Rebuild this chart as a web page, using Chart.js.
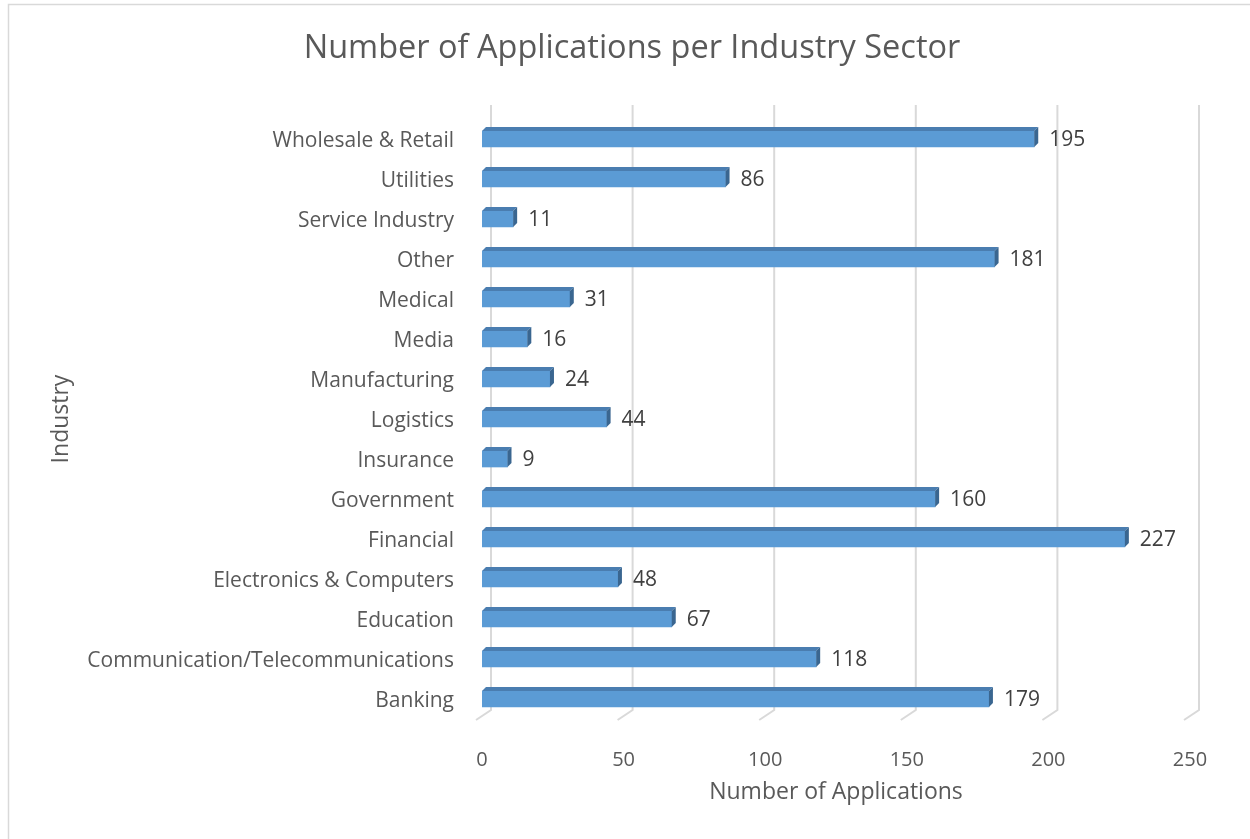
<!DOCTYPE html>
<html>
<head>
<meta charset="utf-8">
<script src="https://cdn.jsdelivr.net/npm/chart.js@4.4.1/dist/chart.umd.min.js"></script>
<style>
  body { margin: 0; background: #fff; }
  #wrap { width: 1250px; height: 839px; position: relative; }
</style>
</head>
<body>
<div id="wrap"><canvas id="chart" width="1250" height="839"></canvas></div>
<script>
// data, bottom to top like the excel sheet
const industries = ["Banking", "Communication/Telecommunications", "Education", "Electronics & Computers",
  "Financial", "Government", "Insurance", "Logistics", "Manufacturing", "Media", "Medical", "Other",
  "Service Industry", "Utilities", "Wholesale & Retail"];
const applications = [179, 118, 67, 48, 227, 160, 9, 44, 24, 16, 31, 181, 11, 86, 195];
const xTicks = [0, 50, 100, 150, 200, 250];

const fontName = "'Open Sans', sans-serif";
const frontColor = "#5B9BD5";
const topColor = "#4A7DB0";
const sideColor = "#3A6690";

// white page + the partial frame of the excel chart
const framePlugin = {
  id: "frame",
  afterLayout(chart) {
    // excel centres the title a bit right of the canvas middle
    if (chart.titleBlock) {
      chart.titleBlock.left = 74;
      chart.titleBlock.right = 1190;
    }
  },
  beforeDraw(chart) {
    const c = chart.ctx;
    c.save();
    c.fillStyle = "#fff";
    c.fillRect(0, 0, chart.width, chart.height);
    c.strokeStyle = "#D9D9D9";
    c.lineWidth = 1.5;
    c.beginPath();
    c.moveTo(8.5, chart.height);
    c.lineTo(8.5, 4.5);
    c.lineTo(chart.width, 4.5);
    c.stroke();
    c.restore();
  }
};

// back wall gridlines with the little floor diagonal
const gridPlugin = {
  id: "grid3d",
  beforeDatasetsDraw(chart) {
    const c = chart.ctx;
    const xs = chart.scales.x;
    const area = chart.chartArea;
    c.save();
    c.strokeStyle = "#D9D9D9";
    c.lineWidth = 2;
    for (const v of xTicks) {
      const px = xs.getPixelForValue(v);
      c.beginPath();
      c.moveTo(px + 9, area.top - 14);
      c.lineTo(px + 9, area.bottom - 9);
      c.lineTo(px - 6, area.bottom + 1);
      c.stroke();
    }
    c.restore();
  }
};

// top + side faces for the 3d look, and value labels
const barPlugin = {
  id: "bars3d",
  afterDatasetsDraw(chart) {
    const c = chart.ctx;
    const meta = chart.getDatasetMeta(0);
    const d = 4, h = 4;
    c.save();
    meta.data.forEach((bar, i) => {
      const x0 = bar.base, x1 = bar.x;
      const yT = bar.y - bar.height / 2, yB = bar.y + bar.height / 2;
      c.fillStyle = topColor;
      c.beginPath();
      c.moveTo(x0, yT);
      c.lineTo(x1, yT);
      c.lineTo(x1 + d, yT - h);
      c.lineTo(x0 + d, yT - h);
      c.closePath();
      c.fill();
      c.fillStyle = sideColor;
      c.beginPath();
      c.moveTo(x1, yT);
      c.lineTo(x1 + d, yT - h);
      c.lineTo(x1 + d, yB - h);
      c.lineTo(x1, yB);
      c.closePath();
      c.fill();

      c.fillStyle = "#404040";
      c.font = "21px " + fontName;
      c.textAlign = "left";
      c.textBaseline = "middle";
      c.fillText(String(applications[i]), x1 + d + 11, bar.y + 1);
    });
    c.restore();
  }
};

new Chart("chart", {
  type: "bar",
  data: {
    labels: industries,
    datasets: [{
      data: applications,
      backgroundColor: frontColor,
      borderWidth: 0,
      barThickness: 16
    }]
  },
  options: {
    indexAxis: "y",
    responsive: false,
    animation: false,
    devicePixelRatio: 1,
    layout: { padding: { left: 30, right: 60, top: 10, bottom: 20 } },
    plugins: {
      legend: { display: false },
      tooltip: { enabled: false },
      title: {
        display: true,
        text: "Number of Applications per Industry Sector",
        color: "#595959",
        font: { family: fontName, size: 32.5, weight: "normal" },
        padding: { top: 19, bottom: 51 }
      }
    },
    scales: {
      x: {
        min: 0,
        max: 250,
        afterBuildTicks(scale) { scale.ticks = xTicks.map(v => ({ value: v })); },
        afterFit(scale) { scale.height = 100; },
        grid: { display: false },
        border: { display: false },
        ticks: { color: "#595959", padding: 21, font: { family: fontName, size: 20 } },
        title: {
          display: true,
          text: "Number of Applications",
          color: "#595959",
          font: { family: fontName, size: 23 },
          padding: { bottom: 13 }
        }
      },
      y: {
        reverse: true,
        afterFit(scale) { scale.width = 452; },
        grid: { display: false },
        border: { display: false },
        ticks: { color: "#595959", padding: 20, labelOffset: 2, font: { family: fontName, size: 21 } },
        title: {
          display: true,
          text: "Industry",
          color: "#595959",
          font: { family: fontName, size: 23 },
          padding: { top: 18 }
        }
      }
    }
  },
  plugins: [framePlugin, gridPlugin, barPlugin]
});
</script>
</body>
</html>
